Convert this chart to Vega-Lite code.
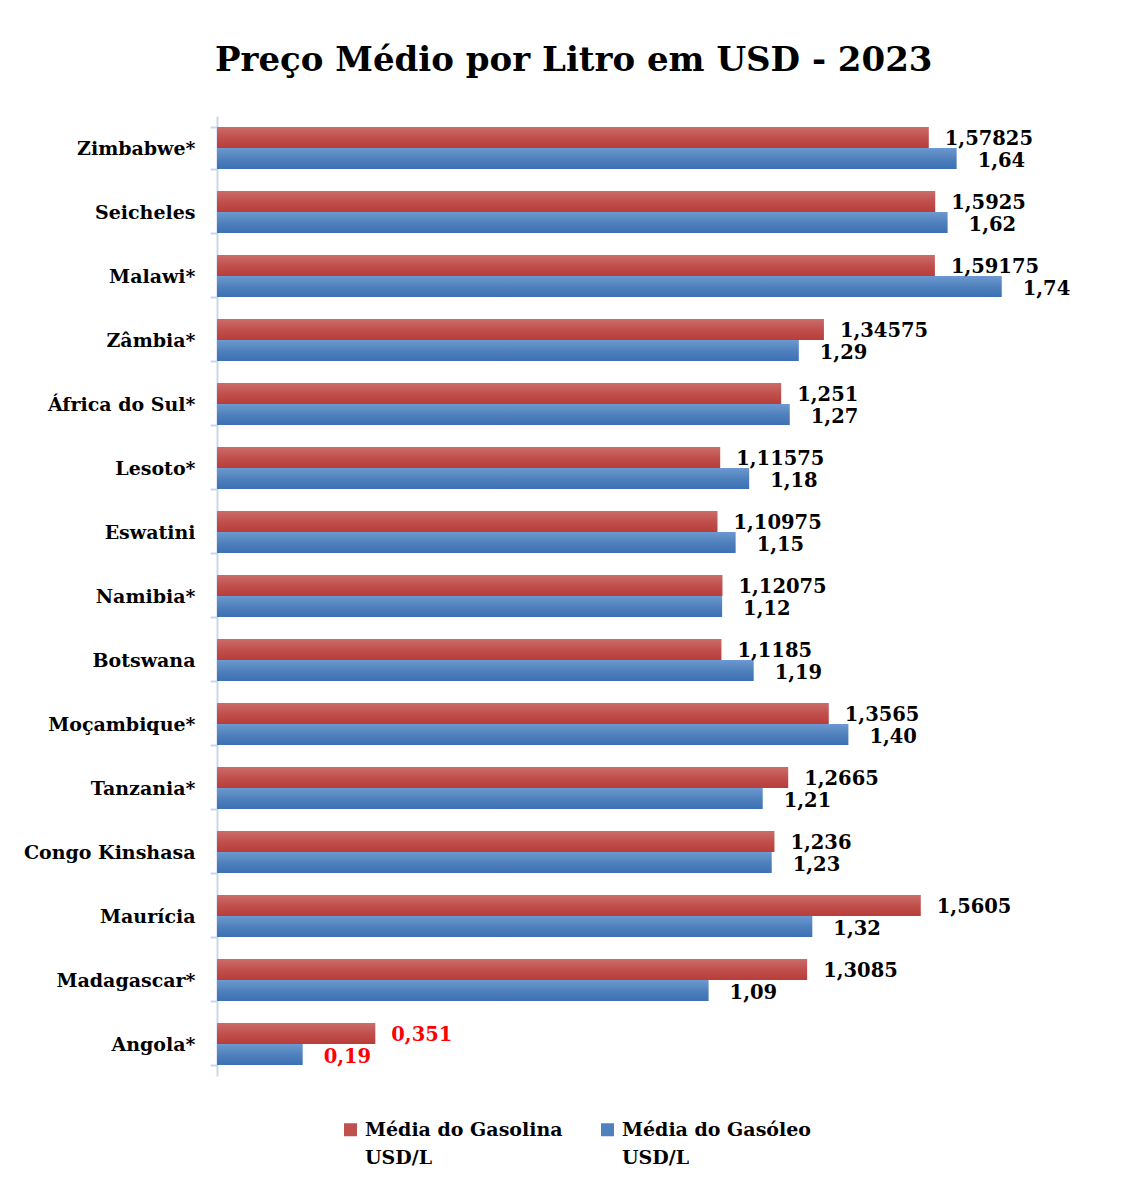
{
  "$schema": "https://vega.github.io/schema/vega-lite/v6.json",
  "width": 902,
  "height": 960,
  "autosize": "none",
  "padding": {"left": 217, "top": 116, "right": 23, "bottom": 109},
  "background": "#ffffff",
  "config": {
    "view": {"stroke": null},
    "locale": {"number": {"decimal": ",", "thousands": ".", "grouping": [3], "currency": ["", ""]}},
    "font": "DejaVu Serif"
  },
  "title": {
    "text": "Preço Médio por Litro em USD - 2023",
    "font": "DejaVu Serif",
    "fontSize": 34,
    "fontWeight": "bold",
    "color": "#000000",
    "anchor": "start",
    "frame": "group",
    "dx": -2,
    "offset": 29
  },
  "data": {
    "values": [
      {"country": "Zimbabwe*", "series": "Média do Gasolina USD/L", "value": 1.57825},
      {"country": "Zimbabwe*", "series": "Média do Gasóleo USD/L", "value": 1.64},
      {"country": "Seicheles", "series": "Média do Gasolina USD/L", "value": 1.5925},
      {"country": "Seicheles", "series": "Média do Gasóleo USD/L", "value": 1.62},
      {"country": "Malawi*", "series": "Média do Gasolina USD/L", "value": 1.59175},
      {"country": "Malawi*", "series": "Média do Gasóleo USD/L", "value": 1.74},
      {"country": "Zâmbia*", "series": "Média do Gasolina USD/L", "value": 1.34575},
      {"country": "Zâmbia*", "series": "Média do Gasóleo USD/L", "value": 1.29},
      {"country": "África do Sul*", "series": "Média do Gasolina USD/L", "value": 1.251},
      {"country": "África do Sul*", "series": "Média do Gasóleo USD/L", "value": 1.27},
      {"country": "Lesoto*", "series": "Média do Gasolina USD/L", "value": 1.11575},
      {"country": "Lesoto*", "series": "Média do Gasóleo USD/L", "value": 1.18},
      {"country": "Eswatini", "series": "Média do Gasolina USD/L", "value": 1.10975},
      {"country": "Eswatini", "series": "Média do Gasóleo USD/L", "value": 1.15},
      {"country": "Namibia*", "series": "Média do Gasolina USD/L", "value": 1.12075},
      {"country": "Namibia*", "series": "Média do Gasóleo USD/L", "value": 1.12},
      {"country": "Botswana", "series": "Média do Gasolina USD/L", "value": 1.1185},
      {"country": "Botswana", "series": "Média do Gasóleo USD/L", "value": 1.19},
      {"country": "Moçambique*", "series": "Média do Gasolina USD/L", "value": 1.3565},
      {"country": "Moçambique*", "series": "Média do Gasóleo USD/L", "value": 1.40},
      {"country": "Tanzania*", "series": "Média do Gasolina USD/L", "value": 1.2665},
      {"country": "Tanzania*", "series": "Média do Gasóleo USD/L", "value": 1.21},
      {"country": "Congo Kinshasa", "series": "Média do Gasolina USD/L", "value": 1.236},
      {"country": "Congo Kinshasa", "series": "Média do Gasóleo USD/L", "value": 1.23},
      {"country": "Maurícia", "series": "Média do Gasolina USD/L", "value": 1.5605},
      {"country": "Maurícia", "series": "Média do Gasóleo USD/L", "value": 1.32},
      {"country": "Madagascar*", "series": "Média do Gasolina USD/L", "value": 1.3085},
      {"country": "Madagascar*", "series": "Média do Gasóleo USD/L", "value": 1.09},
      {"country": "Angola*", "series": "Média do Gasolina USD/L", "value": 0.351},
      {"country": "Angola*", "series": "Média do Gasóleo USD/L", "value": 0.19}
    ]
  },
  "encoding": {
    "y": {
      "field": "country",
      "type": "nominal",
      "sort": null,
      "scale": {"paddingInner": 0.34, "paddingOuter": 0.17},
      "axis": {
        "title": null,
        "domainColor": "#c9d8ec",
        "domainWidth": 2,
        "tickColor": "#c9d8ec",
        "tickWidth": 2,
        "tickSize": 7,
        "tickBand": "extent",
        "labelPadding": 15,
        "labelFont": "DejaVu Serif",
        "labelFontSize": 19,
        "labelFontWeight": "bold",
        "labelColor": "#000000",
        "labelLimit": 300
      }
    },
    "yOffset": {
      "field": "series",
      "type": "nominal",
      "sort": ["Média do Gasolina USD/L", "Média do Gasóleo USD/L"]
    },
    "x": {
      "field": "value",
      "type": "quantitative",
      "scale": {"domain": [0, 2], "nice": false, "zero": true},
      "axis": null
    }
  },
  "layer": [
    {
      "mark": {"type": "bar", "opacity": 0},
      "encoding": {
        "color": {
          "field": "series",
          "type": "nominal",
          "sort": ["Média do Gasolina USD/L", "Média do Gasóleo USD/L"],
          "scale": {
            "domain": ["Média do Gasolina USD/L", "Média do Gasóleo USD/L"],
            "range": ["#c0504d", "#4f81bd"]
          },
          "legend": {
            "title": null,
            "orient": "none",
            "direction": "horizontal",
            "legendX": 124,
            "legendY": 1004,
            "symbolType": "square",
            "symbolSize": 169,
            "symbolOpacity": 1,
            "symbolStrokeWidth": 0,
            "labelFont": "DejaVu Serif",
            "labelFontSize": 19,
            "labelFontWeight": "bold",
            "labelColor": "#000000",
            "labelLimit": 400,
            "labelOffset": 5,
            "columnPadding": 35,
            "labelBaseline": "top",
            "labelExpr": "split(replace(datum.label, ' USD/L', '|USD/L'), '|')",
            "encode": {"labels": {"update": {"dy": {"value": -9}, "lineHeight": {"value": 28}}}}
          }
        }
      }
    },
    {
      "transform": [{"filter": "datum.series === 'Média do Gasolina USD/L'"}],
      "mark": {"type": "bar", "color": {"gradient": "linear", "x1": 0, "y1": 0, "x2": 0, "y2": 1, "stops": [{"offset": 0, "color": "#cb6d6a"}, {"offset": 0.5, "color": "#c0504d"}, {"offset": 1, "color": "#b83d3a"}]}}
    },
    {
      "transform": [{"filter": "datum.series === 'Média do Gasóleo USD/L'"}],
      "mark": {"type": "bar", "color": {"gradient": "linear", "x1": 0, "y1": 0, "x2": 0, "y2": 1, "stops": [{"offset": 0, "color": "#6e98d0"}, {"offset": 0.5, "color": "#4f81bd"}, {"offset": 1, "color": "#3c70b5"}]}}
    },
    {
      "transform": [{"filter": "datum.series === 'Média do Gasolina USD/L'"}],
      "mark": {"type": "text", "align": "left", "baseline": "middle", "dx": 16, "dy": 2, "font": "DejaVu Serif", "fontSize": 19.5, "fontWeight": "bold"},
      "encoding": {
        "text": {"field": "value", "type": "quantitative", "format": ".5~f"},
        "color": {"condition": {"test": "datum.country === 'Angola*'", "value": "#ff0000"}, "value": "#000000"}
      }
    },
    {
      "transform": [{"filter": "datum.series === 'Média do Gasóleo USD/L'"}],
      "mark": {"type": "text", "align": "left", "baseline": "middle", "dx": 21, "dy": 2, "font": "DejaVu Serif", "fontSize": 19.5, "fontWeight": "bold"},
      "encoding": {
        "text": {"field": "value", "type": "quantitative", "format": ".2f"},
        "color": {"condition": {"test": "datum.country === 'Angola*'", "value": "#ff0000"}, "value": "#000000"}
      }
    }
  ]
}
